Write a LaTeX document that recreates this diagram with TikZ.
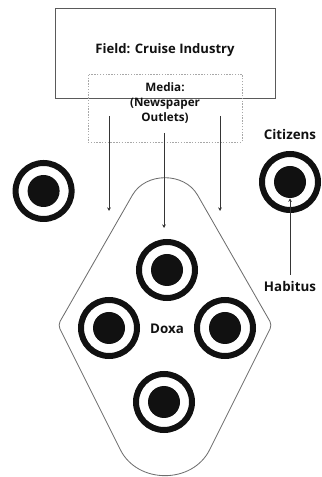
\documentclass[tikz,border=0pt]{standalone}
\usepackage{fontspec}
\setmainfont{Open Sans}
\usepackage{xcolor}
\definecolor{fdgrey}{HTML}{5A5A5A}
\definecolor{mddash}{HTML}{A8A8A8}
\definecolor{dxline}{HTML}{6E6E6E}
\definecolor{inkblk}{HTML}{111111}
\usepackage{tikz}
\usetikzlibrary{arrows.meta,positioning}

\begin{document}
\begin{tikzpicture}[
  fld/.style={draw=fdgrey,line width=0.6pt,minimum width=5.5cm,minimum height=2.25cm,inner sep=0pt},
  med/.style={draw=mddash,line width=0.6pt,dash pattern=on 1pt off 1pt,minimum width=3.85cm,minimum height=1.7cm},
  txt/.style={font=\bfseries\fontsize{9.5}{11.5}\selectfont,text=inkblk,inner sep=1pt},
  ring/.style={circle,draw=inkblk,line width=0.15cm,minimum size=1.4cm,inner sep=0pt},
  dot/.style={circle,fill=inkblk,minimum size=0.8cm,inner sep=0pt},
  arr/.style={-{Stealth[length=0.9mm,width=0.9mm]},line width=0.6pt,inkblk!85}]
  \useasboundingbox (0,0) rectangle (8.025,11.925);
  % field and media
  \node[fld] (field) at (4.125,10.6) {};
  \node[txt,font=\bfseries\fontsize{9.3}{11}\selectfont] (fieldtxt) at (4.125,10.68) {Field: Cruise Industry};
  \node[med] (media) at (4.125,9.225) {};
  \node[txt,font=\bfseries\fontsize{8.3}{10.7}\selectfont,align=center] (mediatxt) at (4.125,9.35)
    {Media:\\(Newspaper\\Outlets)};
  % doxa shape
  \draw[dxline,line width=0.6pt,rounded corners=3pt]
    (1.45,3.8) -- (3.2575,6.955)
    .. controls (3.6425,7.6275) and (4.6075,7.6275) .. (4.9925,6.955)
    -- (6.8,3.8) -- (5.2875,0.775)
    .. controls (4.81,-0.1825) and (3.44,-0.1825) .. (2.9625,0.775)
    -- cycle;
  % arrows from media
  \coordinate (a1s) at (2.725,9.025);
  \coordinate (a1e) at (2.725,6.65);
  \coordinate (a2s) at (4.1,8.6);
  \coordinate (a2e) at (4.1,6.225);
  \coordinate (a3s) at (5.5,9.025);
  \coordinate (a3e) at (5.5,6.65);
  \draw[arr] (a1s) -- (a1e);
  \draw[arr] (a2s) -- (a2e);
  \draw[arr] (a3s) -- (a3e);
  % citizens outside
  \node[ring] (lone) at (1.09,7.15) {};
  \node[dot] (loned) at (lone) {};
  \node[ring] (cit) at (7.25,7.375) {};
  \node[dot] (citd) at (cit) {};
  \node[txt] (citlbl) at (7.25,8.575) {Citizens};
  \node[txt] (hab) at (7.25,4.775) {Habitus};
  \draw[arr,shorten <=3pt] (hab.north) -- (citd.south);
  % citizens in the doxa
  \node[ring] (dx1) at (4.175,5.175) {};
  \node[dot] (dx1d) at (dx1) {};
  \node[ring] (dx2) at (2.725,3.725) {};
  \node[dot] (dx2d) at (dx2) {};
  \node[ring] (dx3) at (5.625,3.725) {};
  \node[dot] (dx3d) at (dx3) {};
  \node[ring] (dx4) at (4.1,1.875) {};
  \node[dot] (dx4d) at (dx4) {};
  \node[txt] (doxa) at (4.175,3.7) {Doxa};
\end{tikzpicture}
\end{document}
